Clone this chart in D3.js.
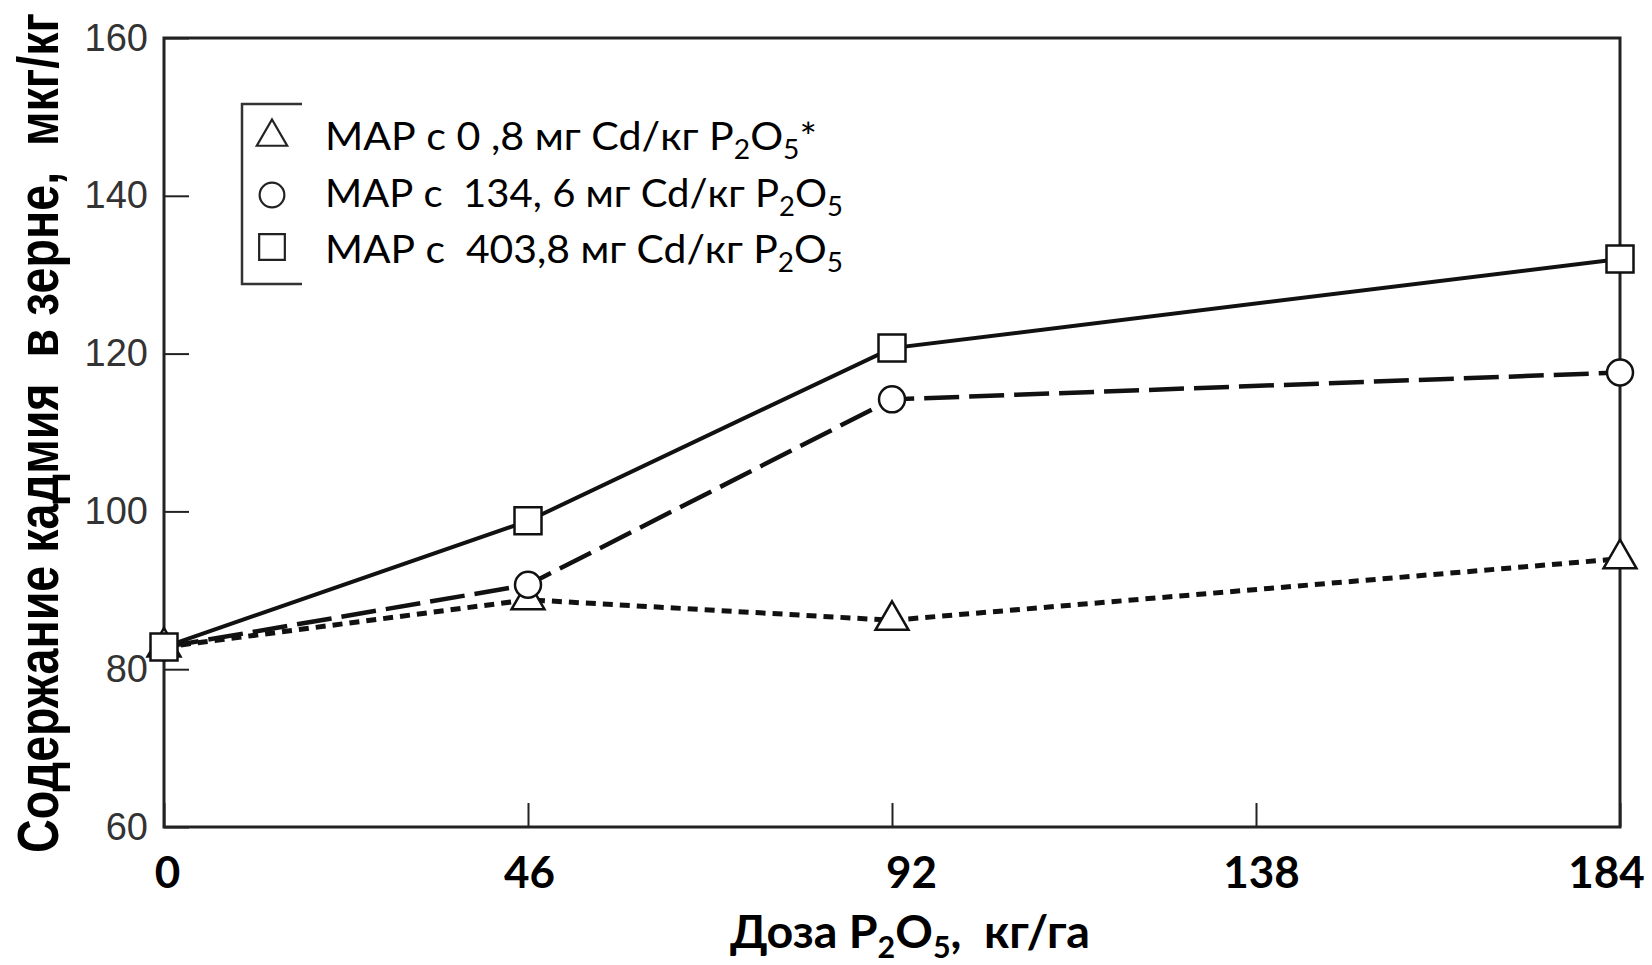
<!DOCTYPE html>
<html>
<head>
<meta charset="utf-8">
<title>Cd in grain</title>
<script src="https://cdn.jsdelivr.net/npm/d3@7"></script>
<style>
	body { margin: 0; background: #fff; }
	svg { display: block; }
	svg text { white-space: pre; }
	.ytick text { font-family: "Liberation Sans", Arial, sans-serif; font-size: 38px; fill: #333; }
	.xtick text { font-family: Lato, "Open Sans", sans-serif; font-size: 44px; font-weight: 700; fill: #000; }
</style>
</head>
<body>
<svg id="chart"></svg>
<script>

// data
var doses = [0, 46, 92, 138, 184];          // x tick labels, kg/ha P2O5
var pointDoses = [0, 46, 92, 184];
var lowCd = [82.8, 88.8, 86.2, 94.0];       // MAP 0,8 mg Cd/kg
var midCd = [82.8, 90.7, 114.2, 117.6];     // MAP 134,6 mg Cd/kg
var highCd = [82.8, 98.8, 120.7, 132.0];    // MAP 403,8 mg Cd/kg
var yTicks = [60, 80, 100, 120, 140, 160];
var legendLabels = [
	["МАР с 0 ,8 мг Cd/кг P", "2", "O", "5", "*"],
	["МАР с  134, 6 мг Cd/кг P", "2", "O", "5"],
	["МАР с  403,8 мг Cd/кг P", "2", "O", "5"]
];

var W = 1652, H = 965;
var pLeft = 164, pRight = 1620, pTop = 38, pBottom = 827;
// the original places some x labels a bit off their ticks
var tickNudge = [3, 1, 19, 5, -14];

var svg = d3.select("#chart").attr("width", W).attr("height", H);

var x = d3.scaleLinear().domain([0, 184]).range([pLeft, pRight]);
var y = d3.scaleLinear().domain([60, 160]).range([pBottom, pTop]);

// y axis, ticks pointing inwards
var yAxis = svg.append("g")
	.attr("class", "ytick")
	.attr("transform", "translate(" + pLeft + ",0)")
	.call(d3.axisLeft(y).tickValues(yTicks).tickSize(-25).tickPadding(16));
yAxis.select(".domain").remove();
yAxis.selectAll("line").attr("stroke", "#222").attr("stroke-width", 2);

// x axis, ticks pointing up
var xAxis = svg.append("g")
	.attr("class", "xtick")
	.attr("transform", "translate(0," + pBottom + ")")
	.call(d3.axisBottom(x).tickValues(doses).tickSize(-24));
xAxis.select(".domain").remove();
xAxis.selectAll("line").attr("stroke", "#222").attr("stroke-width", 2);
xAxis.selectAll("text")
	.attr("y", 61).attr("dy", null)
	.attr("x", function(d, i) { return tickNudge[i]; });

// frame
svg.append("rect")
	.attr("x", pLeft).attr("y", pTop)
	.attr("width", pRight - pLeft).attr("height", pBottom - pTop)
	.attr("fill", "none").attr("stroke", "#222").attr("stroke-width", 3);

var series = [
	{vals: lowCd, dash: "10,7", width: 5, symbol: d3.symbolTriangle, size: 470, lsize: 400},
	{vals: midCd, dash: "35,10", width: 4.5, symbol: d3.symbolCircle, size: 530, lsize: 480},
	{vals: highCd, dash: null, width: 4, symbol: d3.symbolSquare, size: 729, lsize: 660}
];

var line = d3.line()
	.x(function(d) { return x(d[0]); })
	.y(function(d) { return y(d[1]); });

series.forEach(function(s) {
	var pts = pointDoses.map(function(d, i) { return [d, s.vals[i]]; });
	svg.append("path")
		.datum(pts)
		.attr("d", line)
		.attr("fill", "none")
		.attr("stroke", "#111")
		.attr("stroke-width", s.width)
		.attr("stroke-dasharray", s.dash);
});

// markers on top of the lines
series.forEach(function(s) {
	svg.selectAll(null)
		.data(pointDoses.map(function(d, i) { return [d, s.vals[i]]; }))
		.enter().append("path")
		.attr("d", d3.symbol().type(s.symbol).size(s.size))
		.attr("transform", function(d) { return "translate(" + x(d[0]) + "," + y(d[1]) + ")"; })
		.attr("fill", "#fff")
		.attr("stroke", "#111")
		.attr("stroke-width", 2.5);
});

// legend: open box with symbols
var lg = svg.append("g");
lg.append("path")
	.attr("d", "M302,104 H242 V284 H302")
	.attr("fill", "none").attr("stroke", "#333").attr("stroke-width", 2.5);

var rowsY = [137, 195, 247];
var baseY = [150, 207, 263];
var textEnd = [817, 843, 843];

series.forEach(function(s, i) {
	lg.append("path")
		.attr("d", d3.symbol().type(s.symbol).size(s.lsize))
		.attr("transform", "translate(272," + rowsY[i] + ")")
		.attr("fill", "#fff").attr("stroke", "#222").attr("stroke-width", 2.2);

	var parts = legendLabels[i];
	var t = lg.append("text")
		.attr("x", 325).attr("y", baseY[i])
		.attr("font-family", "Lato, 'Open Sans', sans-serif")
		.attr("font-size", 38)
		.attr("fill", "#000")
		.attr("textLength", textEnd[i] - 325)
		.attr("lengthAdjust", "spacingAndGlyphs");
	t.append("tspan").text(parts[0]);
	t.append("tspan").attr("dy", 9).attr("font-size", 26).text(parts[1]);
	t.append("tspan").attr("dy", -9).text(parts[2]);
	t.append("tspan").attr("dy", 9).attr("font-size", 26).text(parts[3]);
	if (parts[4]) t.append("tspan").attr("dy", -8).text(parts[4]);
});

// axis titles
var xt = svg.append("text")
	.attr("x", 730).attr("y", 948)
	.attr("font-family", "Lato, 'Open Sans', sans-serif")
	.attr("font-size", 46).attr("font-weight", 700)
	.attr("textLength", 360).attr("lengthAdjust", "spacingAndGlyphs");
xt.append("tspan").text("Доза P");
xt.append("tspan").attr("dy", 10).attr("font-size", 30).text("2");
xt.append("tspan").attr("dy", -10).text("O");
xt.append("tspan").attr("dy", 10).attr("font-size", 30).text("5");
xt.append("tspan").attr("dy", -10).text(",  кг/га");

svg.append("text")
	.attr("transform", "translate(58,433) rotate(-90)")
	.attr("text-anchor", "middle")
	.attr("font-family", "'Liberation Sans', Arial, sans-serif")
	.attr("font-size", 58).attr("font-weight", 700)
	.attr("textLength", 840).attr("lengthAdjust", "spacingAndGlyphs")
	.text("Содержание кадмия  в зерне,  мкг/кг");

</script>
</body>
</html>
